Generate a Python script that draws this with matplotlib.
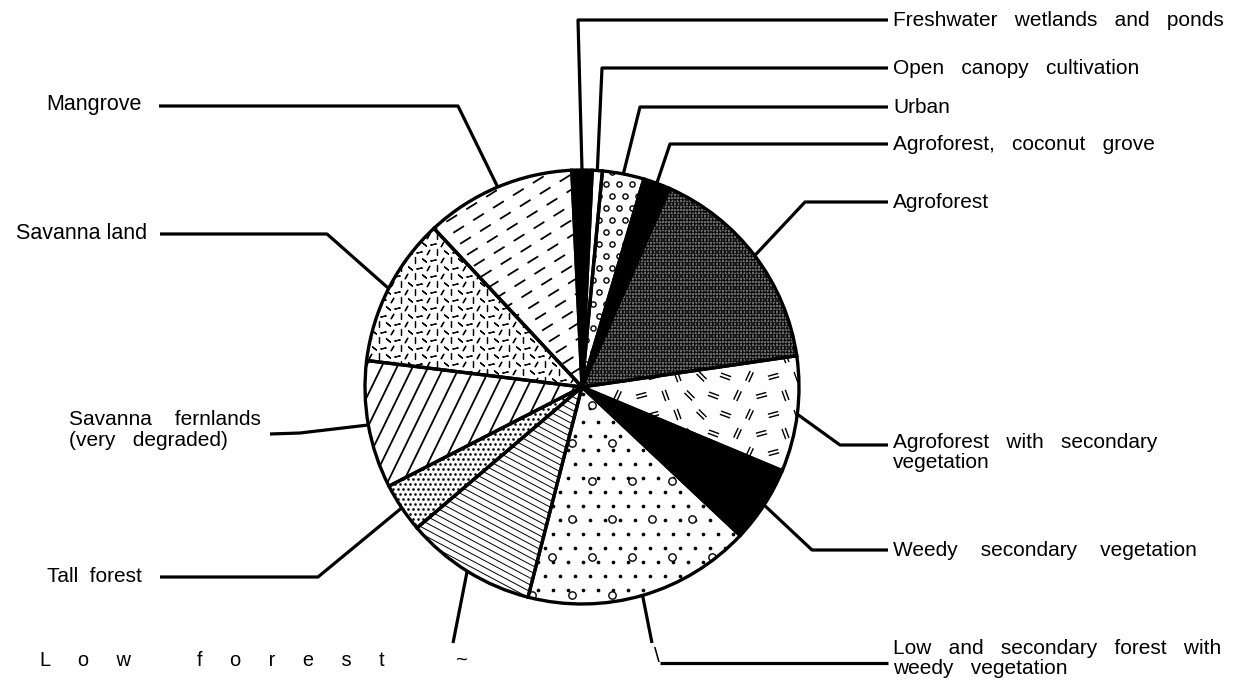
import numpy as np
import matplotlib.pyplot as plt
from matplotlib.patches import Wedge
from matplotlib.markers import MarkerStyle
from matplotlib.collections import LineCollection

plt.rcParams['font.family'] = ['Liberation Sans', 'DejaVu Sans']

W, H = 1234, 685

# land cover classes, clockwise from the top of the pie (% of area)
classes = ['Freshwater wetlands and ponds', 'Open canopy cultivation', 'Urban',
           'Agroforest, coconut grove', 'Agroforest',
           'Agroforest with secondary vegetation', 'Weedy secondary vegetation',
           'Low and secondary forest with weedy vegetation', 'Low forest',
           'Tall forest', 'Savanna fernlands (very degraded)', 'Savanna land',
           'Mangrove']
shares = [1.5, 0.75, 3.1, 2.0, 16.1, 8.6, 5.7, 17.0, 9.75, 3.7, 9.5, 11.1, 11.2]

# labels as printed (wide word spacing of the original)
shown = ['Freshwater   wetlands   and   ponds',
         'Open   canopy   cultivation',
         'Urban',
         'Agroforest,   coconut   grove',
         'Agroforest',
         'Agroforest   with   secondary\nvegetation',
         'Weedy    secondary    vegetation',
         'Low   and   secondary   forest   with\nweedy   vegetation',
         'L     o     w    ' + ' ' * 8 + 'f     o     r     e     s     t' + ' ' * 13 + '~',
         'Tall  forest',
         'Savanna    fernlands\n(very   degraded)',
         'Savanna land',
         'Mangrove']

faces = ['black', 'white', 'white', 'black', '#6a6a6a', 'white', 'black',
         'white', 'white', 'white', 'white', 'white', 'white']

fig = plt.figure(figsize=(W / 100, H / 100), dpi=100)
ax = fig.add_axes([0, 0, 1, 1])

cx, cy, R = 582, H - 387, 217
wedges, _ = ax.pie(shares, startangle=92.7, counterclock=False,
                   center=(cx, cy), radius=R, colors=faces,
                   wedgeprops=dict(edgecolor='none', linewidth=0))

ax.set_xlim(0, W)
ax.set_ylim(0, H)
ax.set_aspect('equal')
ax.axis('off')


# ---- fill textures, clipped to each wedge ----
def grid(step_x, step_y, stagger=True):
    pts = []
    ys = np.arange(cy - R, cy + R + step_y, step_y)
    for j, y in enumerate(ys):
        off = step_x / 2 if (stagger and j % 2) else 0
        for x in np.arange(cx - R - off, cx + R + step_x, step_x):
            pts.append((x, y))
    return np.array(pts)


def dots(w, step_x, step_y, **kw):
    p = grid(step_x, step_y)
    sc = ax.scatter(p[:, 0], p[:, 1], zorder=2, linewidths=kw.pop('lw', 0.8), **kw)
    sc.set_clip_path(w)


def marks(w, p, marker, angles, **kw):
    for k, ang in enumerate(angles):
        sel = p[k::len(angles)]
        sc = ax.scatter(sel[:, 0], sel[:, 1], marker=MarkerStyle(marker).rotated(deg=ang),
                        color='black', zorder=2, **kw)
        sc.set_clip_path(w)


def hatch_lines(w, angle, step, lw, dash=None):
    d = np.array([np.cos(np.deg2rad(angle)), np.sin(np.deg2rad(angle))])
    n = np.array([-d[1], d[0]])
    segs = []
    for k in np.arange(-R, R + step, step):
        c = np.array([cx, cy]) + n * k
        segs.append([c - d * R * 1.1, c + d * R * 1.1])
    lc = LineCollection(segs, colors='black', linewidths=lw, zorder=2,
                        linestyles='solid' if dash is None else (0, dash))
    ax.add_collection(lc)
    lc.set_clip_path(w)


# urban: small open circles
dots(wedges[2], 13, 12, s=14, marker='o', facecolors='white', edgecolors='black', lw=1.0)
# agroforest: grainy dark grey
dots(wedges[4], 4, 4, s=2.4, marker='s', color='#1e1e1e', lw=0)
hatch_lines(wedges[4], 0, 3, 0.5)
hatch_lines(wedges[4], 90, 3, 0.5)
# agroforest with secondary vegetation: scattered "=" marks
marks(wedges[5], grid(24, 19), '$=$', (-20, 65, 15, 110, -45), s=60, linewidths=0)
# low and secondary forest: dots and small ovals
dots(wedges[7], 15, 14, s=7, marker='o', color='black', lw=0)
q = grid(40, 38)
sc = ax.scatter(q[:, 0] + 7, q[:, 1] + 9, s=28, marker='o', facecolors='white',
                edgecolors='black', linewidths=1.0, zorder=2)
sc.set_clip_path(wedges[7])
# low forest: fine descending lines
hatch_lines(wedges[8], -28, 6, 0.7)
# tall forest: dark speckle
dots(wedges[9], 5, 5, s=3.5, marker='o', color='black', lw=0)
# savanna fernlands: steep diagonal lines
hatch_lines(wedges[10], 64, 14, 1.3)
# savanna land: tiny dashes
marks(wedges[11], grid(9, 8), (2, 2, 0), (0, 50, 100, 150), s=14, linewidths=0.9)
# mangrove: dashed slanted strokes
hatch_lines(wedges[12], 32, 13, 1.3, dash=(7, 6))

# outlines on top
for w in wedges:
    ax.add_patch(Wedge(w.center, w.r, w.theta1, w.theta2, fill=False,
                       edgecolor='black', linewidth=2.4, zorder=3))


def rim(w):
    a = np.deg2rad((w.theta1 + w.theta2) / 2)
    return cx + R * np.cos(a), cy + R * np.sin(a)


def leader(pts):
    xs = [p[0] for p in pts]
    ys = [p[1] for p in pts]
    ax.plot(xs, ys, color='black', lw=2.3, solid_capstyle='butt', zorder=1)


fs = 15.0

# right-hand labels: elbow x, line y (pixels from top)
right = {0: (578, 20), 1: (602, 68), 2: (640, 107), 3: (670, 144),
         4: (805, 202), 5: (840, 445), 6: (812, 550)}
for i, (ex, ey) in right.items():
    y = H - ey
    leader([rim(wedges[i]), (ex, y), (888, y)])
    if '\n' in shown[i]:
        ax.text(893, y + 12, shown[i], fontsize=fs, va='top', ha='left',
                linespacing=1.1)
    else:
        ax.text(893, y, shown[i], fontsize=fs, va='center', ha='left')

# low and secondary forest
leader([rim(wedges[7]), (652, H - 643)])
ax.text(654, H - 657, '\\', fontsize=fs, va='center', ha='left')
leader([(660, H - 663), (888, H - 663)])
ax.text(893, H - 639, shown[7], fontsize=fs, va='top', ha='left',
        linespacing=1.1)

# low forest
leader([rim(wedges[8]), (453, H - 643)])
ax.text(40, H - 660, shown[8], fontsize=14.4, va='center', ha='left')

# tall forest
leader([rim(wedges[9]), (318, H - 577), (160, H - 577)])
ax.text(142, H - 577, shown[9], fontsize=fs, va='center', ha='right')

# savanna fernlands
leader([rim(wedges[10]), (300, H - 433), (270, H - 434)])
ax.text(69, H - 410, shown[10], fontsize=fs, va='top', ha='left',
        linespacing=1.1)

# savanna land and mangrove
leader([rim(wedges[11]), (327, H - 234), (160, H - 234)])
ax.text(147, H - 233, shown[11], fontsize=15.5, va='center', ha='right')
leader([rim(wedges[12]), (458, H - 106), (159, H - 106)])
ax.text(142, H - 104, shown[12], fontsize=15.5, va='center', ha='right')

fig.savefig('out.png', dpi=100, facecolor='white')
